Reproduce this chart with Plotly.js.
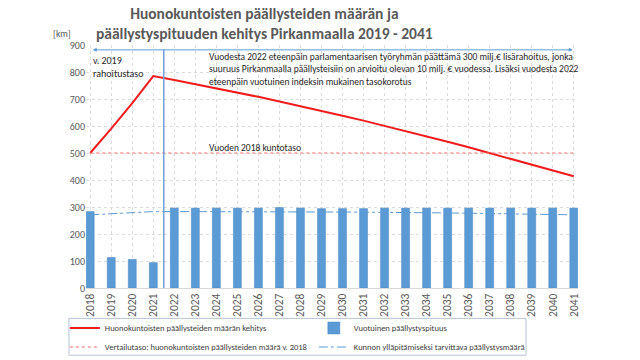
<!DOCTYPE html>
<html>
<head>
<meta charset="utf-8">
<script src="https://cdn.plot.ly/plotly-3.0.1.min.js"></script>
<style>html,body{margin:0;padding:0;background:#fff;}#chart{width:640px;height:360px;}</style>
</head>
<body>
<div id="chart"></div>
<script>
const years = ["2018","2019","2020","2021","2022","2023","2024","2025","2026","2027","2028","2029","2030","2031","2032","2033","2034","2035","2036","2037","2038","2039","2040","2041"];
const poorCondition = [500,590,685,785,770,755,740,724,708,691,674,656,638,620,601,582,562,542,521,500,479,458,436,414];
const reference2018 = [500,500,500,500,500,500,500,500,500,500,500,500,500,500,500,500,500,500,500,500,500,500,500,500];
const annualPaving = [283,113,106,94,296,296,296,296,296,298,296,294,294,294,296,296,296,296,296,296,296,296,296,296];
const neededPaving = [271,275,279,283,283,283,283,283,283,283,283,282,282,281,280,280,279,278,277,276,275,274,272,271];

const NARROW = "'Liberation Sans Narrow', 'Arial Narrow', Carlito, Calibri, 'Noto Sans', sans-serif";
const GRAY = '#595959';

const traces = [
  {type:'scatter', mode:'lines', name:'Huonokuntoisten päällysteiden määrän kehitys', x:years, y:poorCondition,
   line:{color:'#ee1c1c', width:2}},
  {type:'bar', name:'Vuotuinen päällystyspituus', x:years, y:annualPaving,
   marker:{color:'#5b9bd5', line:{color:'#4a86c0', width:0.5}}, width:0.38},
  {type:'scatter', mode:'lines', name:'Vertailutaso: huonokuntoisten päällysteiden määrä v. 2018', x:years, y:reference2018,
   line:{color:'#ff6b6b', width:1, dash:'dot'}},
  {type:'scatter', mode:'lines', name:'Kunnon ylläpitämiseksi tarvittava päällystysmäärä', x:years, y:neededPaving,
   line:{color:'#5b9bd5', width:1, dash:'dashdot'}}
];

const layout = {
  width:640, height:360,
  margin:{l:86, r:62, t:44.5, b:71.5, autoexpand:false},
  paper_bgcolor:'#fff', plot_bgcolor:'#fff',
  font:{family:NARROW, color:GRAY, size:10},
  xaxis:{type:'category', range:[-0.2, 23.2], tickangle:-90, tickfont:{size:11.5, color:GRAY},
         showgrid:true, gridcolor:'#dcdcdc', griddash:'dot', gridwidth:1,
         showline:true, linecolor:'#d9d9d9', ticks:'', zeroline:false, fixedrange:true, automargin:false},
  yaxis:{range:[0,900], dtick:100, tickfont:{size:10, color:GRAY},
         showgrid:true, gridcolor:'#dcdcdc', griddash:'dot', gridwidth:1,
         showline:false, zeroline:false, ticks:'', fixedrange:true, automargin:false},
  showlegend:true,
  legend:{orientation:'h', x:-0.043, xanchor:'left', y:-0.105, yanchor:'top',
          entrywidth:204, entrywidthmode:'pixels',
          bgcolor:'rgba(0,0,0,0)', borderwidth:0,
          font:{size:8.5, color:'#404040'}, traceorder:'normal'},
  shapes:[
    {type:'line', xref:'x', yref:'y', x0:3.5, x1:3.5, y0:0, y1:882, line:{color:'#6f9fd8', width:1.5}, layer:'above'},
    {type:'rect', xref:'paper', yref:'paper', x0:-0.0346, x1:0.8943, y0:-0.2766, y1:-0.125,
     line:{color:'#b8c4d8', width:1}, fillcolor:'rgba(0,0,0,0)', layer:'above'}
  ],
  annotations:[
    {xref:'paper', yref:'paper', x:(264-86)/492, y:1 + (44.5-23)/244, xanchor:'center', yanchor:'middle', showarrow:false,
     text:'<b>Huonokuntoisten päällysteiden määrän ja<br>päällystyspituuden kehitys Pirkanmaalla 2019 - 2041</b>',
     font:{family:NARROW, size:15.5, color:GRAY}},
    {xref:'x', yref:'y', x:22.95, y:882, ax:0.05, ay:882, axref:'x', ayref:'y', text:'', showarrow:true,
     arrowhead:2, arrowsize:0.8, arrowwidth:1, arrowcolor:'#5b9bd5', arrowside:'end+start', standoff:0, startstandoff:0},
    {xref:'x', yref:'y', x:0.05, y:817, xanchor:'left', yanchor:'middle', align:'left', showarrow:false,
     text:'v. 2019<br>rahoitustaso', font:{size:10, color:'#262626'}},
    {xref:'x', yref:'y', x:5.54, y:810, xanchor:'left', yanchor:'middle', align:'left', showarrow:false,
     text:'Vuodesta 2022 eteenpäin parlamentaarisen työryhmän päättämä 300 milj.€ lisärahoitus, jonka<br>suuruus Pirkanmaalla päällysteisiin on arvioitu olevan 10 milj. € vuodessa. Lisäksi vuodesta 2022<br>eteenpäin vuotuinen indeksin mukainen tasokorotus',
     font:{size:9.5, color:'#262626'}},
    {xref:'x', yref:'y', x:5.54, y:519, xanchor:'left', yanchor:'middle', align:'left', showarrow:false,
     text:'Vuoden 2018 kuntotaso', font:{size:9.5, color:'#262626'}},
    {xref:'paper', yref:'paper', x:-0.048, y:1.047, xanchor:'center', yanchor:'middle', showarrow:false,
     text:'[km]', font:{size:9.5, color:GRAY}}
  ]
};

Plotly.newPlot('chart', traces, layout, {displayModeBar:false, staticPlot:true});
</script>
</body>
</html>
